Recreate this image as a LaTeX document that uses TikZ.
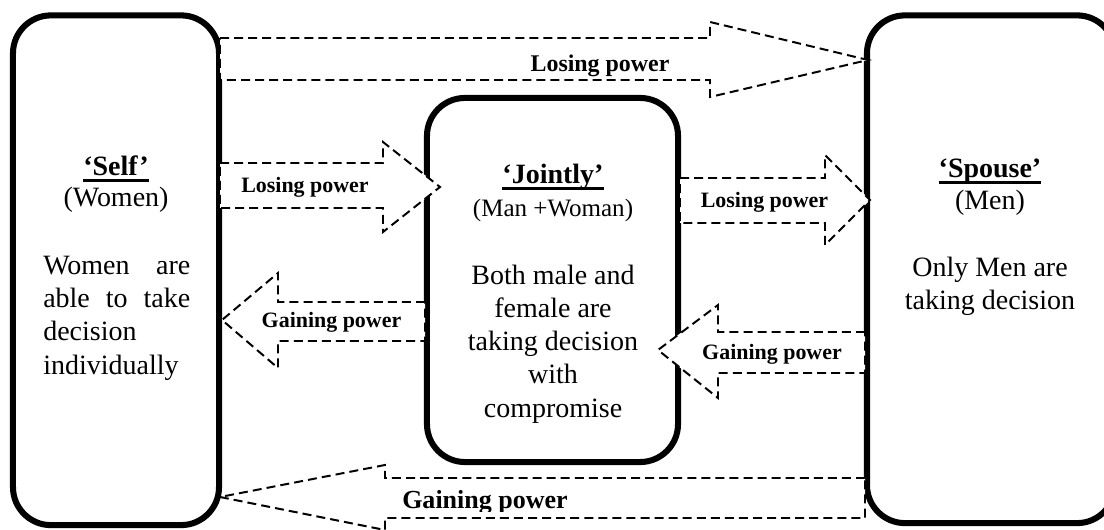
\documentclass[tikz,border=0pt]{standalone}
\usepackage{fontspec}
\setmainfont{Liberation Serif}
\usetikzlibrary{positioning}
\newcommand{\titleul}[1]{\setbox0\hbox{#1}\rlap{\rule[-4pt]{\wd0}{1.8pt}}\box0}
\tikzset{
  decbox/.style={draw,line width=4.3pt,rounded corners=27pt,inner sep=0pt},
  powerarrow/.style={draw,fill=white,line width=1.4pt,dash pattern=on 6.4pt off 3.6pt},
  boxtitle/.style={font=\fontsize{19.9}{23.5}\selectfont\bfseries,anchor=base,inner sep=0pt},
  boxsub/.style={font=\fontsize{19.9}{23.5}\selectfont,anchor=base,inner sep=0pt},
  boxtext/.style={font=\fontsize{19.9}{23.5}\selectfont,anchor=base,align=center,inner sep=0pt},
  arrowlabel/.style={font=\fontsize{15.6}{18}\selectfont\bfseries,anchor=base,inner sep=0pt}
}

\begin{document}
\begin{tikzpicture}[x=0.025cm,y=-0.025cm]
\useasboundingbox (0,0) rectangle (1104,530);
\begin{scope}
\clip (0,0) rectangle (1104,530);
% the three decision boxes
\node[decbox,minimum width=5.15cm,minimum height=12.74cm] (self) at (116,270.25) {};
\node[decbox,minimum width=6.275cm,minimum height=9.1cm] (jointly) at (552.5,280) {};
\node[decbox,minimum width=6.2cm,minimum height=12.69cm] (spouse) at (991,269.25) {};
% losing power, pointing right
\draw[powerarrow] (220,38) -- (710,38) -- (710,22) -- (868,60) -- (710,97) -- (710,80) -- (220,80) -- cycle;
\draw[powerarrow] (220,163) -- (383,163) -- (383,142) -- (440,187) -- (383,232) -- (383,208) -- (220,208) -- cycle;
\draw[powerarrow] (680,178) -- (825,178) -- (825,155) -- (870,200) -- (825,245) -- (825,223) -- (680,223) -- cycle;
% gaining power, pointing left
\draw[powerarrow] (425,302) -- (278,302) -- (278,273) -- (222,320) -- (278,368) -- (278,341) -- (425,341) -- cycle;
\draw[powerarrow] (865,332) -- (718,332) -- (718,305) -- (658,350) -- (718,398) -- (718,373) -- (865,373) -- cycle;
\draw[powerarrow] (865,478) -- (385,478) -- (385,465) -- (220,497) -- (385,530) -- (385,518) -- (865,518) -- cycle;
\end{scope}
% box texts (multi-line nodes sit on their last baseline)
\node[boxtitle] (selftitle) at (116,176) {\titleul{‘Self’}};
\node[boxsub] (selfsub) at (116,207) {(Women)};
\node[boxtext,anchor=base west,align=left] (selfbody) at (43,374)
  {\hbox to 3.675cm{Women\hfill are}\\ \hbox to 3.675cm{able\hfill to\hfill take}\\ decision\\ individually};
\node[boxtitle] (jointlytitle) at (553,184) {\titleul{‘Jointly’}};
\node[boxsub,font=\fontsize{17.8}{21}\selectfont] (jointlysub) at (553,217) {(Man +Woman)};
\node[boxtext] (jointlybody) at (553,417) {Both male and\\ female are\\ taking decision\\ with\\ compromise};
\node[boxtitle] (spousetitle) at (990,178) {\titleul{‘Spouse’}};
\node[boxsub] (spousesub) at (990,210) {(Men)};
\node[boxtext] (spousebody) at (990,310) {Only Men are\\ taking decision};
% arrow labels
\node[arrowlabel,font=\fontsize{17}{20}\selectfont\bfseries] (losetop) at (600,72) {Losing power};
\node[arrowlabel] (loseselfjoint) at (305,193) {Losing power};
\node[arrowlabel] (losejointspouse) at (764.5,208) {Losing power};
\node[arrowlabel] (gainjointself) at (331.5,328) {Gaining power};
\node[arrowlabel] (gainspousejoint) at (772,360) {Gaining power};
\begin{scope}
\clip (380,470) rectangle (600,511);
\node[arrowlabel,font=\fontsize{18.5}{21}\selectfont\bfseries] (gainbottom) at (485,508) {Gaining power};
\end{scope}
\end{tikzpicture}
\end{document}
